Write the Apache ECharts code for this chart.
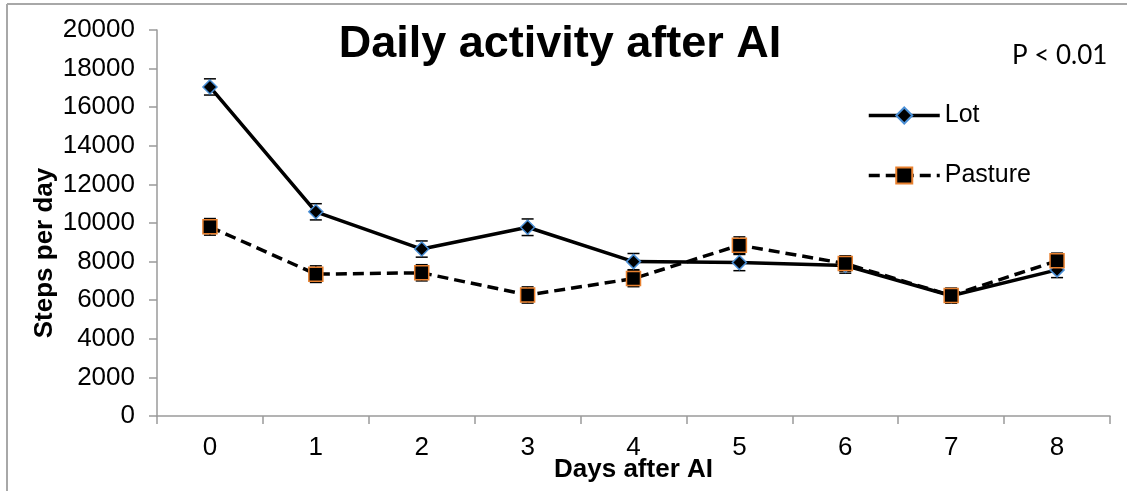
<!DOCTYPE html>
<html>
<head>
<meta charset="utf-8">
<script src="https://cdn.jsdelivr.net/npm/echarts@6/dist/echarts.min.js"></script>
<style>html,body{margin:0;padding:0;background:#fff}#c{width:1127px;height:491px}</style>
</head>
<body>
<div id="c"></div>
<script>
const categories = ['0','1','2','3','4','5','6','7','8'];
const lotValues = [17050, 10580, 8650, 9780, 8000, 7950, 7800, 6230, 7570];
const lotErrors = [420, 420, 420, 430, 420, 420, 400, 380, 400];
const pastureValues = [9800, 7350, 7420, 6270, 7120, 8850, 7900, 6240, 8040];
const pastureErrors = [430, 430, 420, 420, 420, 430, 400, 380, 400];
const yTicks = [0, 20000, 2000];

const FONT = '"Liberation Sans", Arial, sans-serif';

function errorSeries(values, errors) {
  return {
    type: 'custom',
    silent: true,
    z: 1,
    data: values.map((v, i) => [i, v - errors[i], v + errors[i]]),
    renderItem: function (params, api) {
      const lo = api.coord([api.value(0), api.value(1)]);
      const hi = api.coord([api.value(0), api.value(2)]);
      const w = 6;
      const st = { stroke: '#000', lineWidth: 1.5 };
      return {
        type: 'group',
        children: [
          { type: 'line', shape: { x1: lo[0], y1: lo[1], x2: hi[0], y2: hi[1] }, style: st },
          { type: 'line', shape: { x1: lo[0] - w, y1: lo[1], x2: lo[0] + w, y2: lo[1] }, style: st },
          { type: 'line', shape: { x1: hi[0] - w, y1: hi[1], x2: hi[0] + w, y2: hi[1] }, style: st }
        ]
      };
    }
  };
}

const chart = echarts.init(document.getElementById('c'), null, { renderer: 'canvas' });
chart.setOption({
  animation: false,
  backgroundColor: '#fff',
  grid: { left: 157, right: 17, top: 30, bottom: 75, containLabel: false, outerBoundsMode: 'none' },
  title: {
    text: 'Daily activity after AI',
    left: 555, top: 17, textAlign: 'center',
    textStyle: { fontFamily: FONT, fontWeight: 'bold', fontSize: 45, color: '#000' }
  },
  legend: {
    left: 862, top: 98, orient: 'vertical',
    itemWidth: 71, itemHeight: 20, itemGap: 35,
    textStyle: { fontFamily: FONT, fontSize: 25, color: '#000' },
    lineStyle: { width: 3.5 },
    data: ['Lot', 'Pasture']
  },
  xAxis: {
    type: 'category', data: categories, boundaryGap: true,
    name: 'Days after AI', nameLocation: 'middle', nameGap: 41, nameMoveOverlap: false,
    nameTextStyle: { fontFamily: FONT, fontWeight: 'bold', fontSize: 26, color: '#000' },
    axisLine: { lineStyle: { color: '#9a9a9a', width: 1.5 } },
    axisTick: { show: true, length: 8, alignWithLabel: false, lineStyle: { color: '#9a9a9a', width: 1.5 } },
    axisLabel: { fontFamily: FONT, fontSize: 26, color: '#000', margin: 19 }
  },
  yAxis: {
    type: 'value', min: yTicks[0], max: yTicks[1], interval: yTicks[2],
    axisLine: { show: true, lineStyle: { color: '#9a9a9a', width: 1.5 } },
    axisTick: { show: true, length: 8, lineStyle: { color: '#9a9a9a', width: 1.5 } },
    splitLine: { show: false },
    axisLabel: { fontFamily: FONT, fontSize: 26, color: '#000', margin: 22, formatter: function (v) { return String(v); } }
  },
  graphic: [
    { type: 'line', shape: { x1: 7, y1: 4, x2: 1127, y2: 4 }, style: { stroke: '#a8a8a8', lineWidth: 2 } },
    { type: 'line', shape: { x1: 7, y1: 4, x2: 7, y2: 491 }, style: { stroke: '#a8a8a8', lineWidth: 2 } },
    { type: 'text', left: 1012, top: 43, style: { text: 'P < 0.01', font: '26px Lato, "Liberation Sans", sans-serif', fill: '#000' } },
    { type: 'text', x: 45, y: 253, rotation: Math.PI / 2,
      style: { text: 'Steps per day', font: 'bold 26px "Liberation Sans", Arial', fill: '#000', align: 'center', verticalAlign: 'middle' } }
  ],
  series: [
    errorSeries(lotValues, lotErrors),
    errorSeries(pastureValues, pastureErrors),
    {
      name: 'Lot', type: 'line', data: lotValues, z: 3,
      symbol: 'diamond', symbolSize: 14,
      lineStyle: { color: '#000', width: 3.5 },
      itemStyle: { color: '#000', borderColor: '#4a8fd6', borderWidth: 1.5 }
    },
    {
      name: 'Pasture', type: 'line', data: pastureValues, z: 3,
      symbol: 'rect', symbolSize: 14,
      lineStyle: { color: '#000', width: 3.5, type: [11, 6] },
      itemStyle: { color: '#000', borderColor: '#e8802e', borderWidth: 1.5 }
    }
  ]
});
</script>
</body>
</html>
